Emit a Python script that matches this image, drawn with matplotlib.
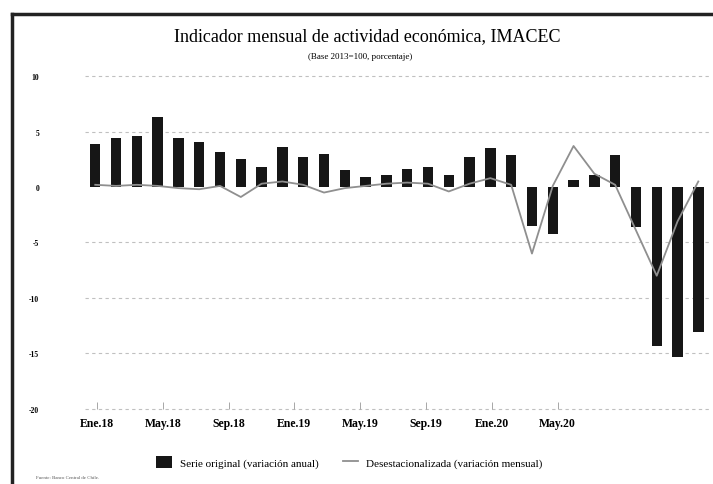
# -*- coding: utf-8 -*-
# IMACEC: serie original (barras) y desestacionalizada (linea)

import numpy as np
import matplotlib
matplotlib.use('Agg')
import matplotlib.pyplot as plt
from matplotlib.lines import Line2D

# datos (Ene.18 - Jun.20)
meses = ['Ene.18', 'Feb.18', 'Mar.18', 'Abr.18', 'May.18', 'Jun.18', 'Jul.18', 'Ago.18',
         'Sep.18', 'Oct.18', 'Nov.18', 'Dic.18', 'Ene.19', 'Feb.19', 'Mar.19', 'Abr.19',
         'May.19', 'Jun.19', 'Jul.19', 'Ago.19', 'Sep.19', 'Oct.19', 'Nov.19', 'Dic.19',
         'Ene.20', 'Feb.20', 'Mar.20', 'Abr.20', 'May.20', 'Jun.20']
var_anual = [3.9, 4.4, 4.6, 6.3, 4.4, 4.1, 3.2, 2.5, 1.8, 3.6, 2.7, 3.0, 1.5, 0.9, 1.1,
             1.6, 1.8, 1.1, 2.7, 3.5, 2.9, -3.5, -4.2, 0.6, 1.1, 2.9, -3.6, -14.3, -15.3, -13.1]
var_mensual = [0.2, 0.1, 0.2, 0.1, -0.1, -0.2, 0.1, -0.9, 0.3, 0.5, 0.2, -0.5, -0.1, 0.1, 0.3,
               0.4, 0.3, -0.4, 0.3, 0.8, 0.2, -6.0, 0.1, 3.7, 1.2, 0.2, -3.9, -8.0, -3.1, 0.5]
etiquetas_x = ['Ene.18', 'May.18', 'Sep.18', 'Ene.19', 'May.19', 'Sep.19', 'Ene.20', 'May.20']
ticks_y = [10, 5, 0, -5, -10, -15, -20]

serif = 'Liberation Serif'

fig = plt.figure(figsize=(7.13, 4.85), dpi=100)
ax = fig.add_axes([0.119, 0.155, 0.875, 0.686])

x = np.arange(len(meses))
barras = ax.bar(x, var_anual, width=0.5, color='#161616', zorder=2,
                label='Serie original (variación anual)')
linea, = ax.plot(x, var_mensual, color='#8f8f8f', linewidth=1.3, zorder=3,
                 label='Desestacionalizada (variación mensual)')

ax.set_xlim(-0.5, len(meses) - 0.5)
ax.set_ylim(-20, 10)

# lineas de grilla punteadas
for v in ticks_y:
    if v != 0:
        ax.axhline(v, color='#c0c0c0', linewidth=0.8, linestyle=(0, (3, 3)), zorder=1,
                   clip_on=False)

for s in ['top', 'right', 'left', 'bottom']:
    ax.spines[s].set_visible(False)

ax.set_yticks(ticks_y)
ax.set_yticklabels([str(v) for v in ticks_y], fontfamily=serif, fontsize=5.5, fontweight='bold')
ax.tick_params(axis='y', length=0, pad=33)

# etiquetas del eje x (posiciones como en el original)
ax.set_xticks(np.linspace(0.08, 22.24, len(etiquetas_x)))
ax.set_xticklabels(etiquetas_x, fontfamily=serif, fontsize=8.5, fontweight='bold')
ax.tick_params(axis='x', direction='in', length=5, width=0.6, color='#999999', pad=6)

# titulo y subtitulo
fig.text(0.515, 0.925, 'Indicador mensual de actividad económica, IMACEC',
         ha='center', va='center', fontfamily=serif, fontsize=13)
fig.text(0.505, 0.882, '(Base 2013=100, porcentaje)',
         ha='center', va='center', fontfamily=serif, fontsize=6.5)

# leyenda
fig.legend(handles=[barras, linea], loc='center', bbox_to_anchor=(0.49, 0.045), ncol=2,
           frameon=False, prop={'family': serif, 'size': 8}, handlelength=1.4,
           handleheight=1.2, columnspacing=2.2, handletextpad=0.7)

fig.text(0.05, 0.013, 'Fuente: Banco Central de Chile.', fontfamily=serif, fontsize=3.5,
         color='#555555')

# marco del recorte (bordes izquierdo y superior)
fig.add_artist(Line2D([0.017, 0.017], [0.0, 0.97], color='#222222', linewidth=2.5,
                      transform=fig.transFigure))
fig.add_artist(Line2D([0.017, 1.0], [0.97, 0.97], color='#222222', linewidth=2.5,
                      transform=fig.transFigure))

plt.savefig('out.png', dpi=100)
